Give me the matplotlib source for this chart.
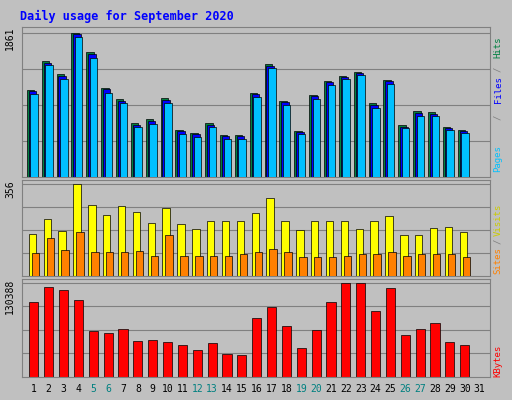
import numpy as np
import matplotlib
matplotlib.use('Agg')
import matplotlib.pyplot as plt

days = np.arange(1, 31)
day_labels = [str(d) for d in range(1, 32)]
weekend_days = [5, 6, 12, 13, 19, 20, 26, 27]

# values
hits = [1127, 1494, 1329, 1861, 1608, 1152, 1000, 696, 747, 1013, 608, 570, 696, 544, 544, 1089, 1456, 987, 595, 1063, 1241, 1304, 1355, 950, 1253, 671, 848, 836, 646, 608]
files = [1105, 1474, 1309, 1840, 1588, 1130, 980, 676, 727, 993, 590, 552, 676, 526, 526, 1069, 1436, 967, 577, 1043, 1221, 1290, 1340, 930, 1233, 651, 828, 816, 626, 590]
pages = [1070, 1440, 1270, 1800, 1540, 1090, 950, 640, 690, 950, 560, 520, 640, 490, 490, 1030, 1400, 930, 550, 1000, 1190, 1260, 1320, 890, 1200, 630, 790, 790, 600, 570]
visits = [162, 220, 174, 356, 275, 236, 271, 248, 205, 263, 201, 182, 213, 213, 213, 244, 302, 213, 178, 213, 213, 213, 182, 213, 232, 159, 159, 186, 190, 170]
sites = [89, 147, 100, 170, 93, 93, 93, 97, 77, 158, 77, 77, 77, 77, 85, 93, 104, 93, 73, 73, 73, 77, 85, 85, 93, 77, 85, 85, 85, 73]
kbytes = [104000, 124000, 120000, 106000, 64000, 61000, 66000, 50000, 51000, 49000, 44000, 38000, 47000, 32000, 31000, 82000, 97000, 71000, 40000, 65000, 104000, 130388, 130388, 92000, 123000, 58000, 66000, 75000, 48000, 44000]

bg = '#c0c0c0'
mono = 'DejaVu Sans Mono'
fig = plt.figure(figsize=(5.12, 4.0), dpi=100, facecolor=bg)
fig.text(20/512, 1-16/400, 'Daily usage for September 2020', color='#0000ff',
         family=mono, weight='bold', fontsize=8.5, va='center')

L, W = 22/512, 468/512
ax1 = fig.add_axes([L, 1-177/400, W, 150/400])
ax2 = fig.add_axes([L, 1-276/400, W, 96/400])
ax3 = fig.add_axes([L, 1-377/400, W, 98/400])

def style(ax, top, label):
    ax.set_facecolor(bg)
    ax.set_xlim(0.2, 31.7)
    ax.set_ylim(0, top * 1.04)
    for q in [0.25, 0.5, 0.75, 1.0]:
        ax.axhline(top * q, color='#808080', lw=0.8, zorder=0)
    ax.set_xticks([])
    ax.set_yticks([])
    for s in ax.spines.values():
        s.set_color('#808080')
    ax.text(-0.025, 1.0, label, transform=ax.transAxes, rotation=90,
            ha='center', va='top', family=mono, fontsize=7)

style(ax1, 1861, '1861')
ax1.bar(days - 0.22, hits, 0.5, color='#008040', edgecolor='black', lw=0.5, zorder=2)
ax1.bar(days - 0.1, files, 0.5, color='#0000ff', edgecolor='black', lw=0.5, zorder=3)
ax1.bar(days + 0.02, pages, 0.5, color='#00c0ff', edgecolor='black', lw=0.5, zorder=4)

style(ax2, 356, '356')
ax2.bar(days - 0.1, visits, 0.5, color='#ffff00', edgecolor='black', lw=0.5, zorder=2)
ax2.bar(days + 0.1, sites, 0.5, color='#ff8000', edgecolor='black', lw=0.5, zorder=3)

style(ax3, 130388, '130388')
ax3.bar(days, kbytes, 0.62, color='#ff0000', edgecolor='black', lw=0.5, zorder=2)

for i, lab in enumerate(day_labels):
    d = i + 1
    ax3.text(d, -0.12, lab, transform=ax3.get_xaxis_transform(), ha='center', va='center',
             fontsize=7, family=mono,
             color='#008080' if d in weekend_days else 'black')

# right side legends (y = bottom pixel of each word)
fx = 498/512
side = [('Pages', '#00c0ff', 172), ('/', '#808080', 120), ('Files', '#0000ff', 103),
        ('/', '#808080', 72), ('Hits', '#008040', 58),
        ('Sites', '#ff8000', 274), ('/', '#808080', 244), ('Visits', '#cccc00', 236),
        ('KBytes', '#ff0000', 377)]
for txt, col, yb in side:
    fig.text(fx, 1-yb/400, txt, color=col, rotation=90, ha='center', va='bottom',
             family=mono, fontsize=6.5)

fig.savefig('out.png', dpi=100, facecolor=bg)
